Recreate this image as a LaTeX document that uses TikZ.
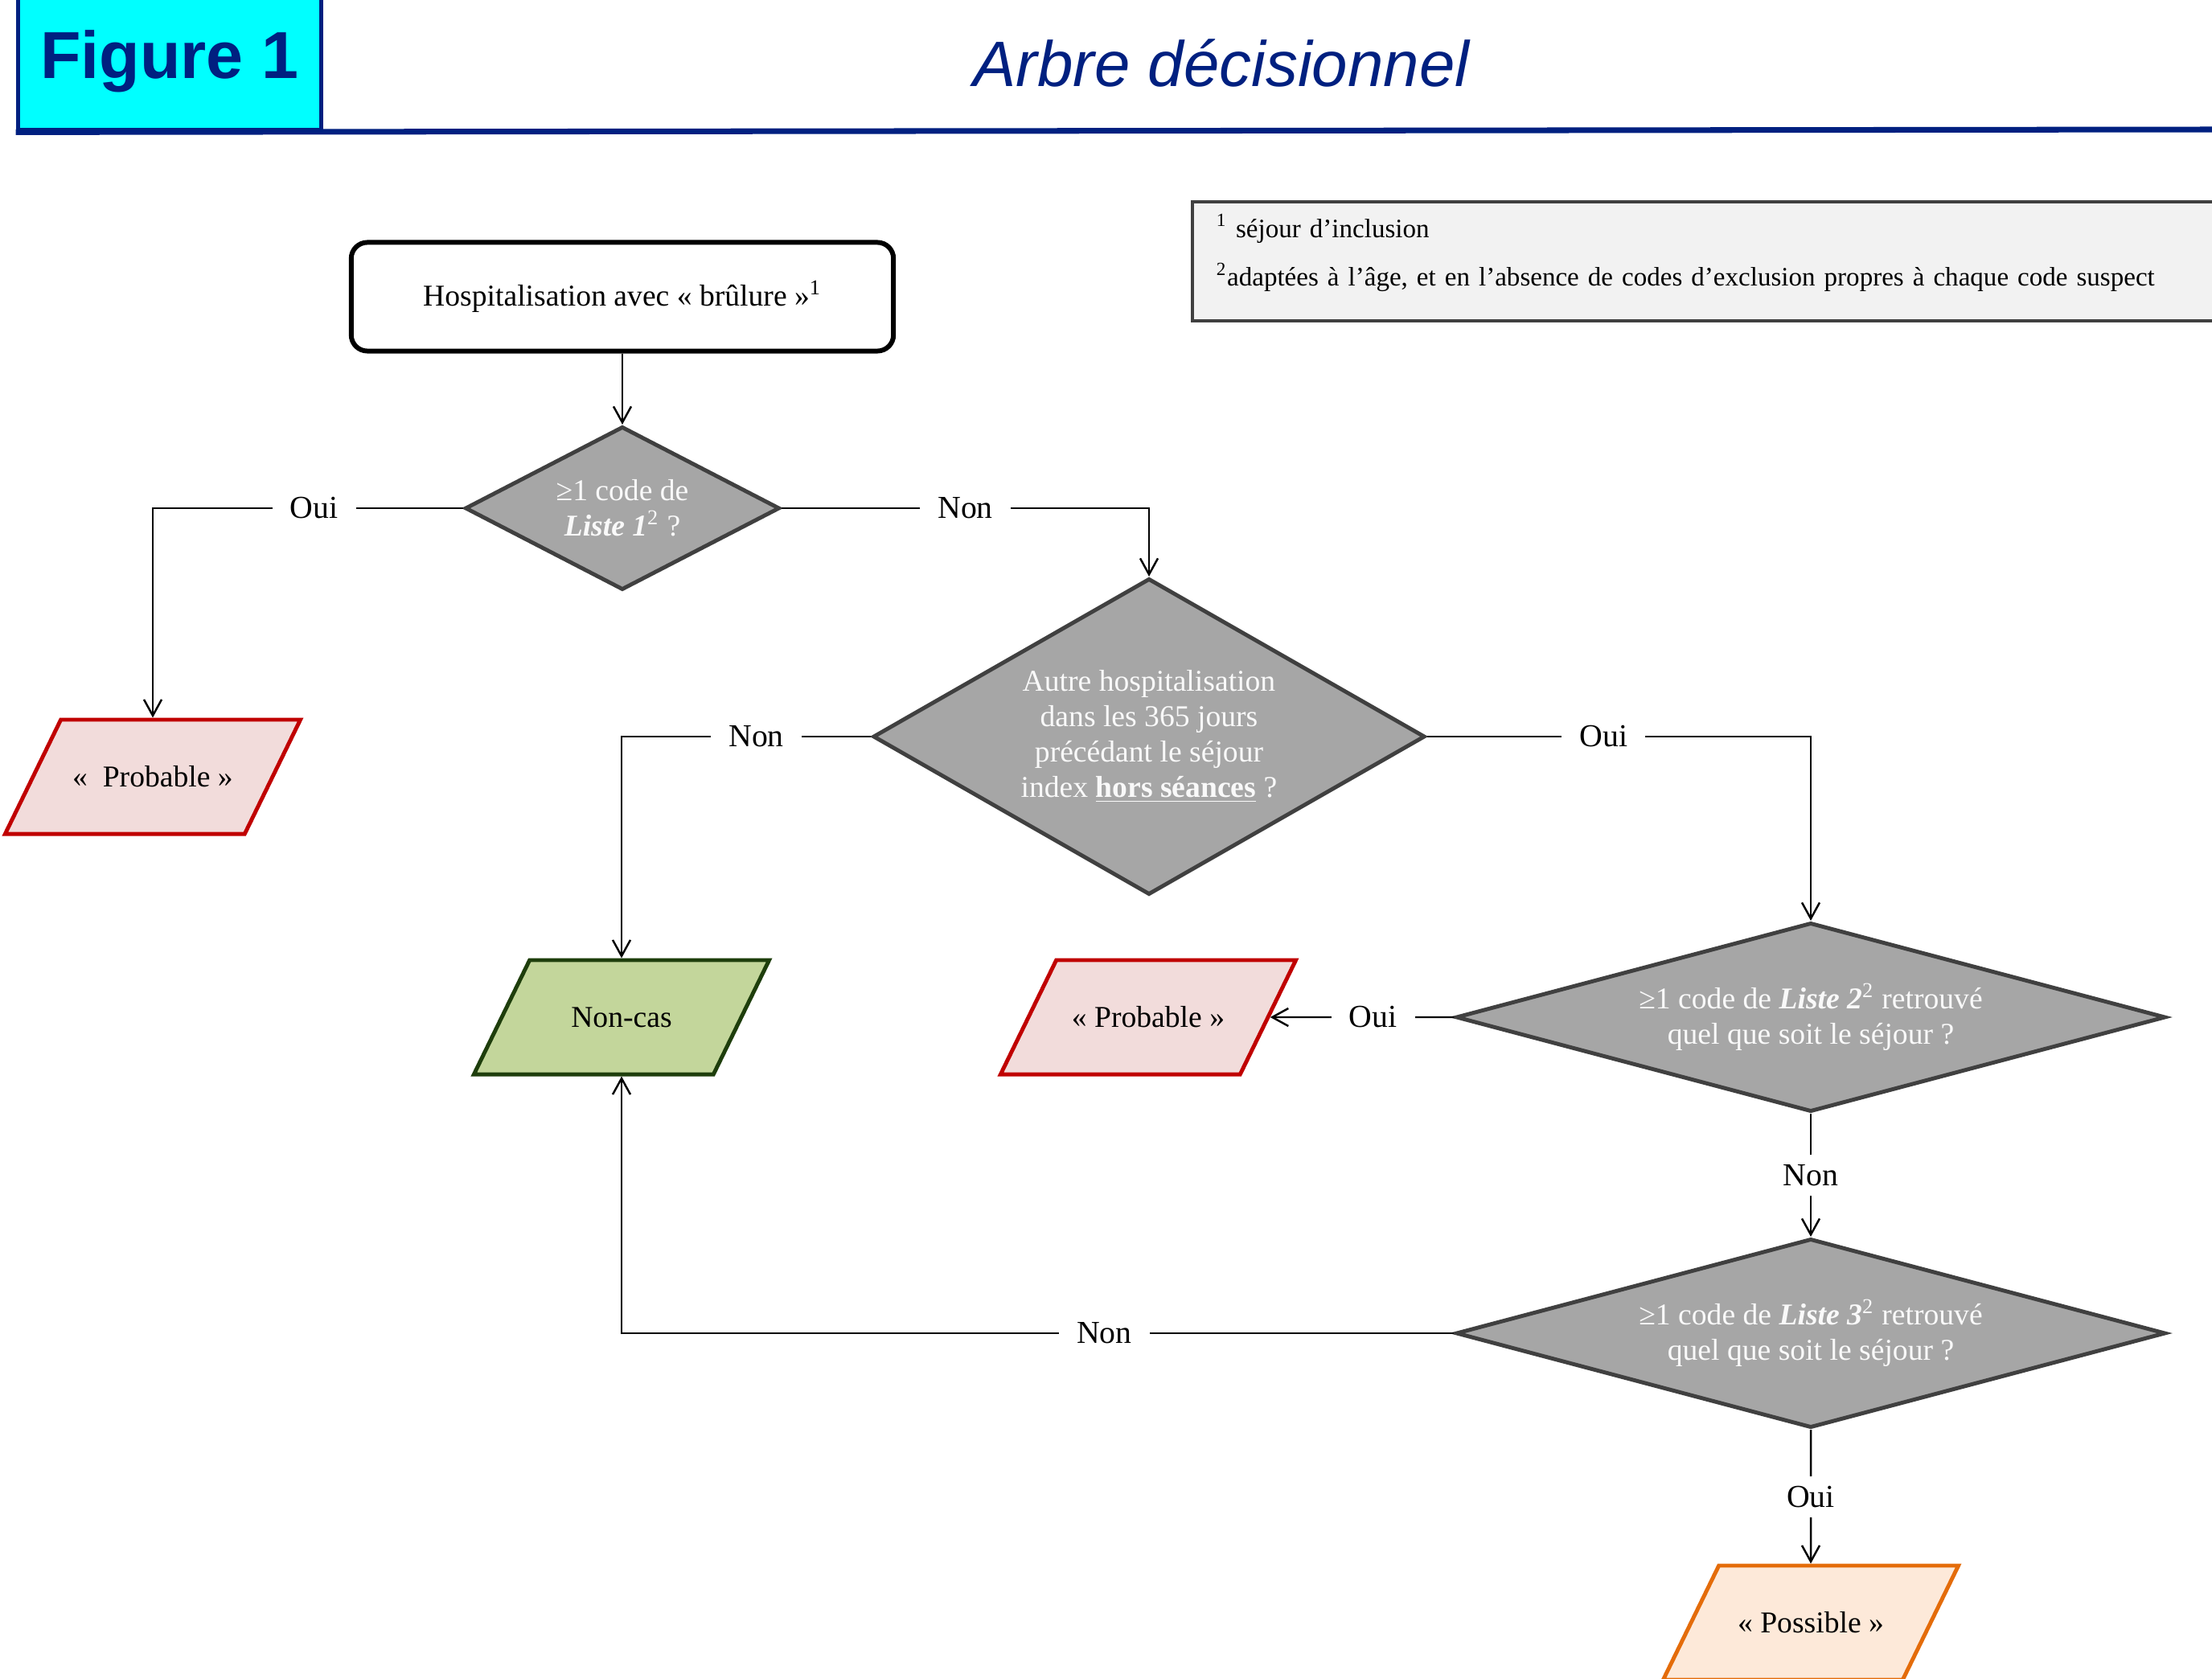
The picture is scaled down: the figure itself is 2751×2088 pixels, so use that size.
\documentclass[tikz,border=0pt]{standalone}
\usepackage{fontspec}
\setmainfont{Liberation Serif}
\newfontfamily\headfont{Liberation Sans}
\usetikzlibrary{shapes.geometric,arrows.meta}
\definecolor{hdblue}{RGB}{0,32,128}
\definecolor{figcyan}{RGB}{0,255,255}
\definecolor{qfill}{RGB}{166,166,166}
\definecolor{qline}{RGB}{64,64,64}
\definecolor{pfill}{RGB}{242,220,219}
\definecolor{pline}{RGB}{192,0,0}
\definecolor{nfill}{RGB}{195,214,155}
\definecolor{nline}{RGB}{30,62,12}
\definecolor{ofill}{RGB}{253,233,217}
\definecolor{oline}{RGB}{228,108,10}
\tikzset{
  question/.style={diamond, draw=qline, fill=qfill, line width=1.4pt, text=white!95!gray,
    inner sep=0pt, align=center, font=\fontsize{10.7}{12.5}\selectfont},
  outcome/.style={trapezium, trapezium left angle=64, trapezium right angle=116,
    trapezium stretches body, minimum width=3.67cm, text height=0.25cm, text depth=0.01cm,
    inner xsep=0pt, inner ysep=0.58cm, line width=1.4pt, font=\fontsize{10.7}{12.5}\selectfont},
  conn/.style={-{Straight Barb[length=2mm,width=2.2mm]}, line width=0.7pt},
  lbl/.style={fill=white, inner xsep=2.2mm, inner ysep=1.2mm, font=\fontsize{11.3}{13}\selectfont}
}
\begin{document}
\begin{tikzpicture}[x=0.01cm,y=-0.01cm]
\useasboundingbox (0,0) rectangle (2751,2088);
\node[fill=figcyan, draw=hdblue, line width=1.6pt, minimum width=3.77cm, minimum height=1.71cm,
  text=hdblue, font=\headfont\bfseries\fontsize{23.5}{28}\selectfont] (fig) at (211,76) {Figure 1};
\coordinate (hr) at (2751,161);
\draw[hdblue, line width=2pt] (fig.south west) -- (hr);
\node[text=hdblue, font=\headfont\itshape\fontsize{22.7}{27}\selectfont] (title) at (1519,79) {Arbre décisionnel};
\node[draw=qline, line width=1pt, fill=black!5, anchor=north west, minimum width=13.1cm,
  minimum height=1.48cm, text width=12.5cm, align=left, inner xsep=0.28cm, text depth=0.88cm,
  font=\fontsize{9.4}{11}\selectfont] (leg) at (1481,249)
  {\textsuperscript{1} séjour d’inclusion\\[0.22cm]\textsuperscript{2}adaptées à l’âge, et en l’absence de codes d’exclusion propres à chaque code suspect};

\node[draw, line width=1.7pt, rounded corners=0.2cm, minimum width=6.74cm, minimum height=1.35cm,
  font=\fontsize{10.7}{12.5}\selectfont] (s) at (774,369) {Hospitalisation avec « brûlure »\textsuperscript{1}};
\node[question, minimum width=3.91cm, minimum height=2.03cm, shape aspect=1.93] (q1) at (774,632)
  {≥1 code de\\\textit{\textbf{Liste 1}}\textsuperscript{2} ?};
\node[question, minimum width=6.86cm, minimum height=3.93cm, shape aspect=1.75] (q2) at (1429,916)
  {Autre hospitalisation\\dans les 365 jours\\précédant le séjour\\index \underline{\textbf{hors séances}} ?};
\node[question, minimum width=8.82cm, minimum height=2.35cm, shape aspect=3.75] (q3) at (2252,1265)
  {≥1 code de \textit{\textbf{Liste 2}}\textsuperscript{2} retrouvé\\quel que soit le séjour ?};
\node[question, minimum width=8.82cm, minimum height=2.35cm, shape aspect=3.75] (q4) at (2252,1658)
  {≥1 code de \textit{\textbf{Liste 3}}\textsuperscript{2} retrouvé\\quel que soit le séjour ?};
\node[outcome, draw=pline, fill=pfill] (p1) at (190,966) {«\enspace Probable »};
\node[outcome, draw=nline, fill=nfill] (nc) at (773,1265) {Non-cas};
\node[outcome, draw=pline, fill=pfill] (p2) at (1428,1265) {« Probable »};
\node[outcome, draw=oline, fill=ofill] (po) at (2252,2018) {« Possible »};

\draw[conn] (s) -- (q1);
\draw[conn] (q1.west) -| node[lbl, pos=0.24] {Oui} (p1.north);
\draw[conn] (q1.east) -| node[lbl, pos=0.25] {Non} (q2.north);
\draw[conn] (q2.west) -| node[lbl, pos=0.23] {Non} (nc.north);
\draw[conn] (q2.east) -| node[lbl, pos=0.23] {Oui} (q3.north);
\draw[conn] (q3.west) -- node[lbl, pos=0.44] {Oui} (p2.east);
\draw[conn] (q3.south) -- node[lbl] {Non} (q4.north);
\draw[conn] (q4.west) -| node[lbl, pos=0.21] {Non} (nc.south);
\draw[conn] (q4.south) -- node[lbl] {Oui} (po.north);
\end{tikzpicture}
\end{document}
